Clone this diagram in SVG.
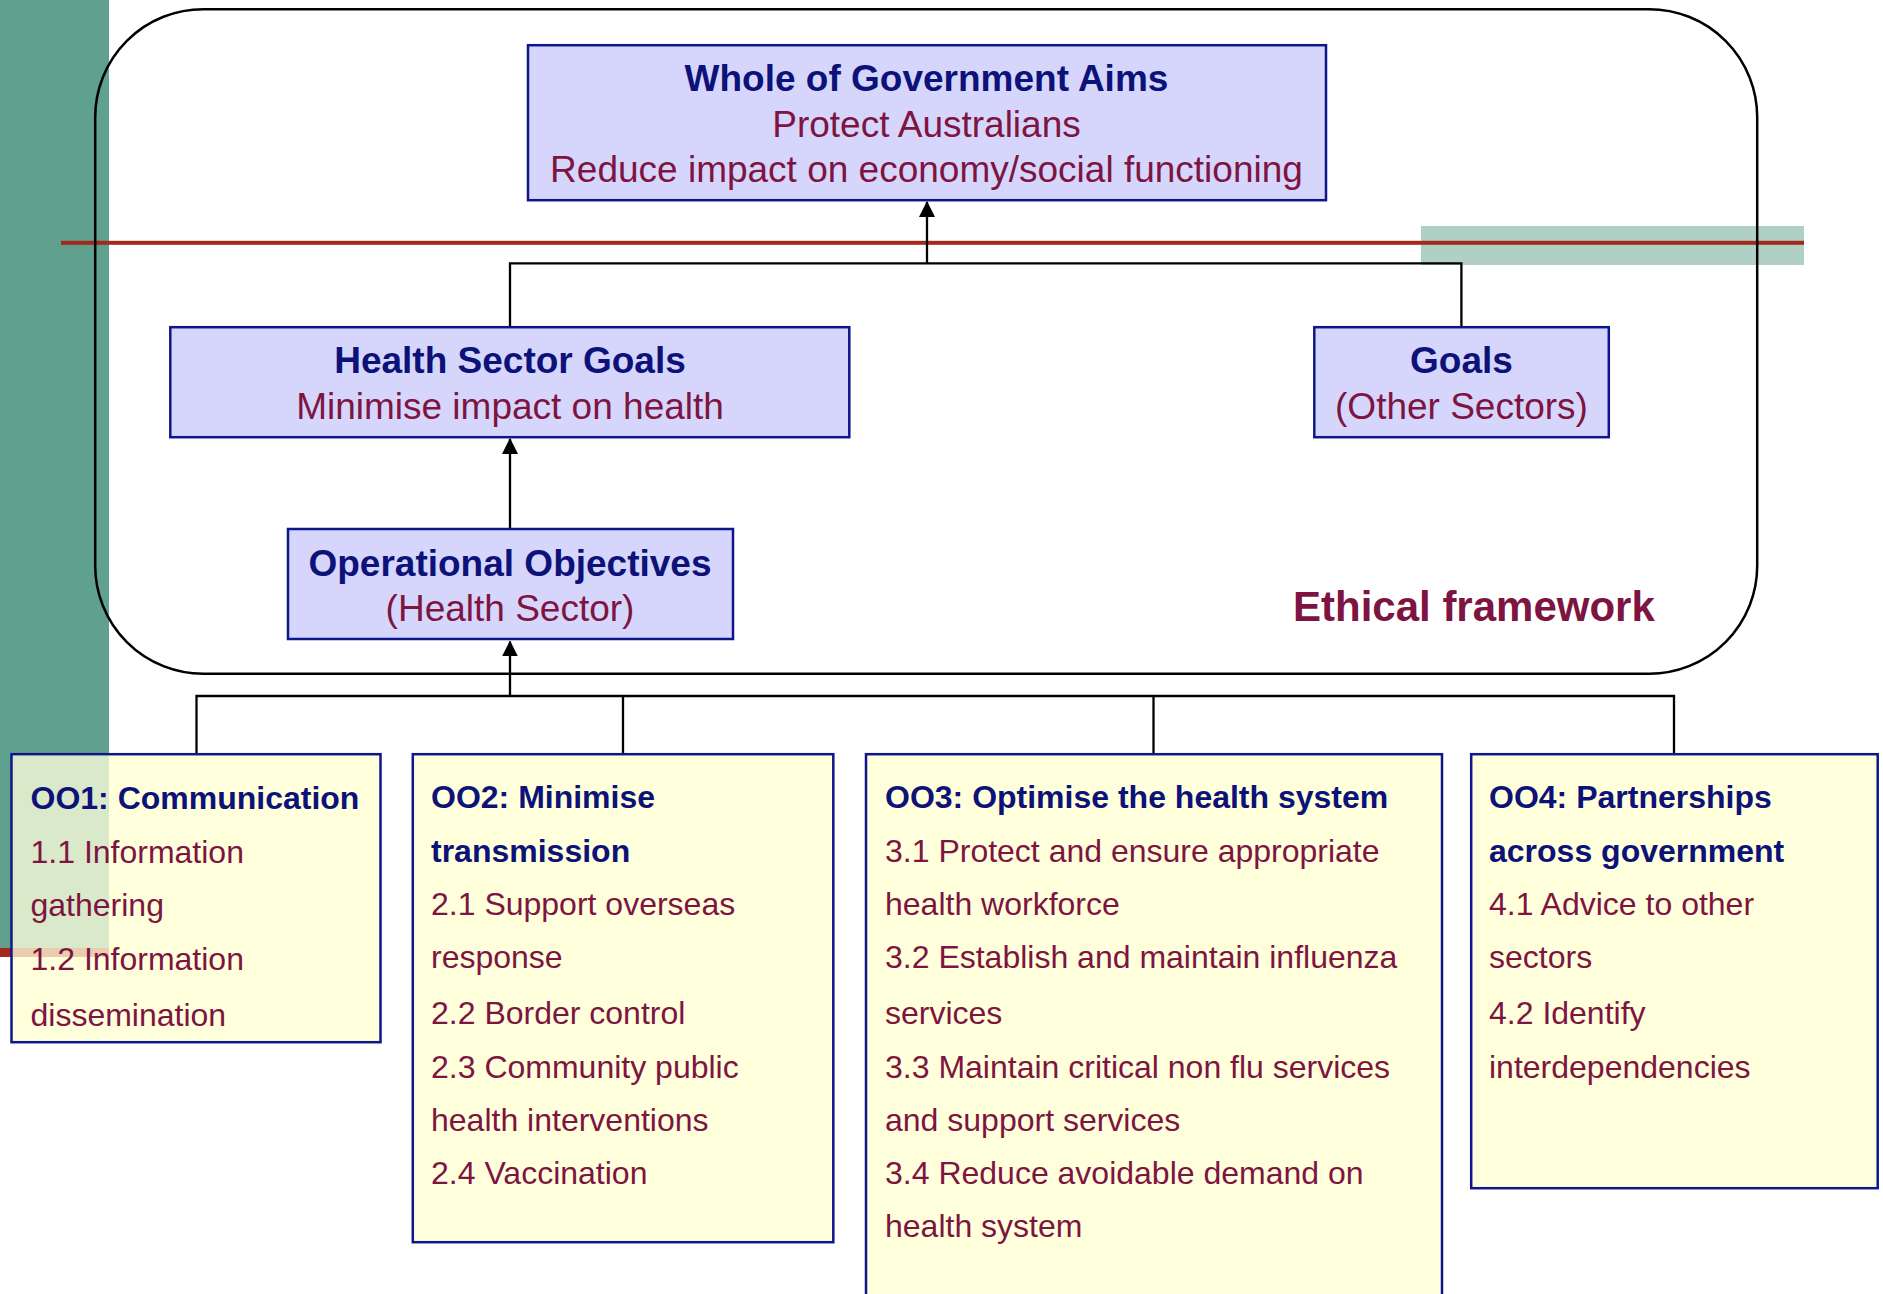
<svg xmlns="http://www.w3.org/2000/svg" width="1883" height="1294" viewBox="0 0 1883 1294">
<style>
.bg{fill:#ffffff}
.top{fill:#D6D6FC;stroke:#0F168A;stroke-width:2.5}
.bot{fill:#FFFFDC;stroke:#0F168A;stroke-width:2.5}
.t{font-family:"Liberation Sans",Arial,sans-serif;font-weight:bold;fill:#0C1278}
.s{font-family:"Liberation Sans",Arial,sans-serif;fill:#7D1441}
.c37{font-size:37px;text-anchor:middle}
.b32{font-size:32px}
.conn{fill:none;stroke:#000;stroke-width:2.3}
</style>
<defs>
<marker id="arr" markerUnits="userSpaceOnUse" markerWidth="16" markerHeight="16" viewBox="0 0 15 15" refX="14" refY="7.5" orient="auto">
<path d="M0,0 L15,7.5 L0,15 z" fill="#000"/>
</marker>
</defs>
<rect class="bg" x="0" y="0" width="1883" height="1294"/>
<g id="decor">
<rect x="0" y="0" width="109" height="948" fill="#5FA08E"/>
<rect x="0" y="948" width="109" height="9" fill="#A3291C"/>
<rect x="1421" y="226" width="383" height="39" fill="#B0D0C6"/>
<rect x="61" y="240.8" width="1743" height="4" fill="#A3291C"/>
</g>
<g id="ethical-framework">
<rect x="95.2" y="9.2" width="1662" height="664.5" rx="108" ry="108" fill="none" stroke="#000" stroke-width="2.5"/>
<text class="s" x="1293" y="620.5" font-size="42" font-weight="bold" fill="#7B1040">Ethical framework</text>
</g>
<g id="connectors">
<path class="conn" d="M510,327 V263.3 H1461.4 V327"/>
<path class="conn" d="M927,263.3 V202" marker-end="url(#arr)"/>
<path class="conn" d="M510,529 V439" marker-end="url(#arr)"/>
<path class="conn" d="M196.5,754 V696 H1674 V754"/>
<path class="conn" d="M623,696 V754"/>
<path class="conn" d="M1153.5,696 V754"/>
<path class="conn" d="M510,696 V641.5" marker-end="url(#arr)"/>
</g>
<g id="whole-of-government">
<rect class="top" x="528" y="45.2" width="798" height="155"/>
<text class="t c37" x="926.5" y="91">Whole of Government Aims</text>
<text class="s c37" x="926.5" y="136.5">Protect Australians</text>
<text class="s c37" x="926.5" y="181.7">Reduce impact on economy/social functioning</text>
</g>
<g id="health-sector-goals">
<rect class="top" x="170.3" y="327.2" width="679" height="110"/>
<text class="t c37" x="510" y="372.7">Health Sector Goals</text>
<text class="s c37" x="510" y="418.5">Minimise impact on health</text>
</g>
<g id="goals-other">
<rect class="top" x="1314.3" y="327.2" width="294.5" height="110"/>
<text class="t c37" x="1461.5" y="372.7">Goals</text>
<text class="s c37" x="1461.5" y="418.5">(Other Sectors)</text>
</g>
<g id="operational-objectives">
<rect class="top" x="288" y="529" width="445" height="110"/>
<text class="t c37" x="510" y="575.5">Operational Objectives</text>
<text class="s c37" x="510" y="620.5">(Health Sector)</text>
</g>
<g id="oo1">
<rect class="bot" x="11.5" y="754.2" width="369" height="288"/>
<rect x="12.8" y="755.5" width="96.2" height="192.5" fill="#5FA08E" opacity="0.23"/>
<rect x="12.8" y="948" width="96.2" height="9" fill="#A3291C" opacity="0.23"/>
<text class="t b32" x="30.5" y="809">OO1: Communication</text>
<text class="s b32" x="30.5" y="862.5">1.1 Information</text>
<text class="s b32" x="30.5" y="916">gathering</text>
<text class="s b32" x="30.5" y="969.5">1.2 Information</text>
<text class="s b32" x="30.5" y="1025.5">dissemination</text>
</g>
<g id="oo2">
<rect class="bot" x="412.8" y="754.2" width="420.5" height="488"/>
<text class="t b32" x="431" y="808">OO2: Minimise</text>
<text class="t b32" x="431" y="861.5">transmission</text>
<text class="s b32" x="431" y="914.5">2.1 Support overseas</text>
<text class="s b32" x="431" y="967.5">response</text>
<text class="s b32" x="431" y="1023.5">2.2 Border control</text>
<text class="s b32" x="431" y="1077.5">2.3 Community public</text>
<text class="s b32" x="431" y="1130.5">health interventions</text>
<text class="s b32" x="431" y="1183.5">2.4 Vaccination</text>
</g>
<g id="oo3">
<rect class="bot" x="866" y="754.2" width="576" height="570"/>
<text class="t b32" x="885" y="808">OO3: Optimise the health system</text>
<text class="s b32" x="885" y="861.5">3.1 Protect and ensure appropriate</text>
<text class="s b32" x="885" y="914.5">health workforce</text>
<text class="s b32" x="885" y="967.5">3.2 Establish and maintain influenza</text>
<text class="s b32" x="885" y="1023.5">services</text>
<text class="s b32" x="885" y="1077.5">3.3 Maintain critical non flu services</text>
<text class="s b32" x="885" y="1130.5">and support services</text>
<text class="s b32" x="885" y="1183.5">3.4 Reduce avoidable demand on</text>
<text class="s b32" x="885" y="1236.5">health system</text>
</g>
<g id="oo4">
<rect class="bot" x="1471.2" y="754.2" width="406.5" height="434"/>
<text class="t b32" x="1489" y="808">OO4: Partnerships</text>
<text class="t b32" x="1489" y="861.5">across government</text>
<text class="s b32" x="1489" y="914.5">4.1 Advice to other</text>
<text class="s b32" x="1489" y="967.5">sectors</text>
<text class="s b32" x="1489" y="1023.5">4.2 Identify</text>
<text class="s b32" x="1489" y="1077.5">interdependencies</text>
</g>
</svg>
